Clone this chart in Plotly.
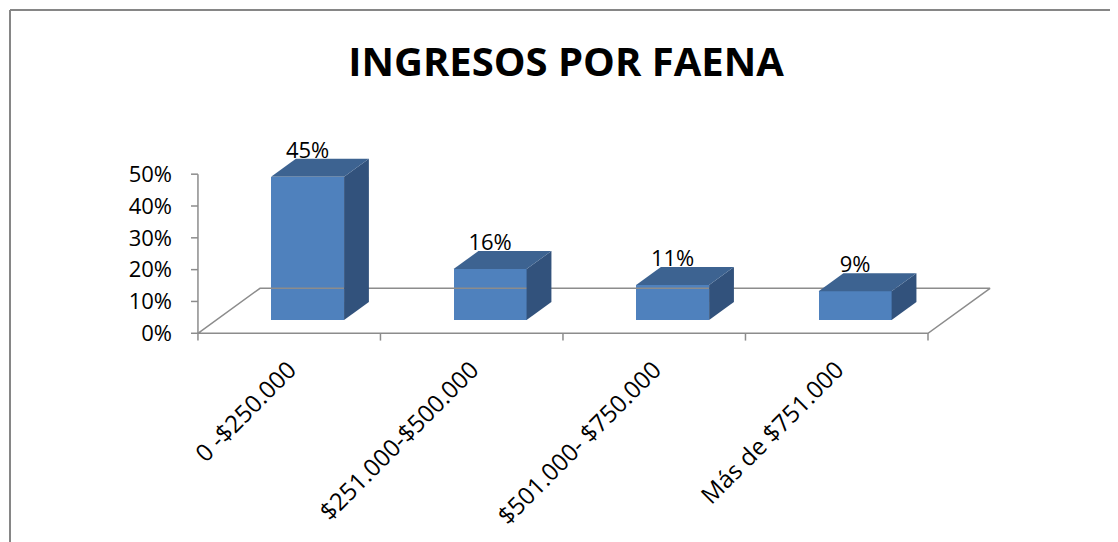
import plotly.graph_objects as go

# ---- data ----
categories = ["0 -$250.000", "$251.000-$500.000", "$501.000- $750.000", "Más de $751.000"]
values = [45, 16, 11, 9]            # percent
value_labels = ["45%", "16%", "11%", "9%"]
y_tick_vals = [0, 10, 20, 30, 40, 50]
y_tick_text = ["0%", "10%", "20%", "30%", "40%", "50%"]
title_text = "INGRESOS POR FAENA"

# ---- styling / geometry constants ----
FRONT = "#4F81BD"
TOP = "#3D6391"
SIDE = "#32527C"
GRID = "#8C8C8C"
FONT = "Open Sans"

W, H = 1118, 542
OFF = 8                              # page body margin
L, T = 187 - OFF, 136 - OFF
PW, PH = 814, 210
X0, X1 = -0.56, 3.9
Y0, Y1 = -4, 62

FLOOR_DX, FLOOR_DY = 0.34, 14.14     # floor depth in data units
D_FRONT, D_BACK = 0.296, 0.696      # bar depth fractions
BAR_W = 0.4
LABEL_DROP = 1.4                     # value label nudge (data units)

n = len(categories)
left, right = -0.5, n - 0.5

fig = go.Figure()

# floor outline
fx = [left, right, right + FLOOR_DX, left + FLOOR_DX, left]
fy = [0, 0, FLOOR_DY, FLOOR_DY, 0]
fig.add_trace(go.Scatter(x=fx, y=fy, mode="lines", line=dict(color=GRID, width=1.5),
                         hoverinfo="skip", showlegend=False))
# x tick marks at category boundaries
tx, ty = [], []
for k in range(n + 1):
    tx += [left + k, left + k, None]
    ty += [0, -2.3, None]
fig.add_trace(go.Scatter(x=tx, y=ty, mode="lines", line=dict(color=GRID, width=1.5),
                         hoverinfo="skip", showlegend=False))
# y axis line and ticks
ax, ay = [left, left, None], [0, max(y_tick_vals), None]
for v in y_tick_vals:
    ax += [left - 0.038, left, None]
    ay += [v, v, None]
fig.add_trace(go.Scatter(x=ax, y=ay, mode="lines", line=dict(color=GRID, width=1.5),
                         hoverinfo="skip", showlegend=False))

sx, sy = D_FRONT * FLOOR_DX, D_FRONT * FLOOR_DY
ddx, ddy = (D_BACK - D_FRONT) * FLOOR_DX, (D_BACK - D_FRONT) * FLOOR_DY
centers = [i + sx for i in range(n)]

# front faces
fig.add_trace(go.Bar(x=centers, y=values, base=[sy] * n, width=BAR_W,
                     marker=dict(color=FRONT, line=dict(width=0)),
                     hoverinfo="skip", showlegend=False))

# side and top faces
for c, v in zip(centers, values):
    xl, xr = c - BAR_W / 2, c + BAR_W / 2
    yb, yt = sy, sy + v
    fig.add_trace(go.Scatter(x=[xr, xr + ddx, xr + ddx, xr, xr],
                             y=[yb, yb + ddy, yt + ddy, yt, yb],
                             fill="toself", fillcolor=SIDE, mode="lines",
                             line=dict(width=0, color=SIDE),
                             hoverinfo="skip", showlegend=False))
    fig.add_trace(go.Scatter(x=[xl, xr, xr + ddx, xl + ddx, xl],
                             y=[yt, yt, yt + ddy, yt + ddy, yt],
                             fill="toself", fillcolor=TOP, mode="lines",
                             line=dict(width=0, color=TOP),
                             hoverinfo="skip", showlegend=False))

# value labels
fig.add_trace(go.Scatter(x=centers, y=[sy + v + ddy - LABEL_DROP for v in values], mode="text",
                         text=value_labels, textposition="top center",
                         textfont=dict(family=FONT, size=22, color="black"),
                         cliponaxis=False, hoverinfo="skip", showlegend=False))

fig.update_layout(
    width=W, height=H,
    margin=dict(l=L, r=W - L - PW, t=T, b=H - T - PH, pad=0),
    paper_bgcolor="white", plot_bgcolor="white",
    title=dict(text="<b>" + title_text + "</b>", x=(566 - OFF) / W, xanchor="center",
               y=1 - (62 - OFF) / H, yanchor="middle",
               font=dict(family=FONT, size=40, color="black")),
    xaxis=dict(range=[X0, X1], tickmode="array", tickvals=list(range(n)), ticktext=categories,
               tickangle=-45, showgrid=False, zeroline=False, showline=False, ticks="",
               ticklabelstandoff=4,
               tickfont=dict(family=FONT, size=24, color="black")),
    yaxis=dict(range=[Y0, Y1], tickmode="array", tickvals=y_tick_vals, ticktext=y_tick_text,
               showgrid=False, zeroline=False, showline=False, ticks="",
               ticklabelstandoff=14,
               tickfont=dict(family=FONT, size=22, color="black")),
    bargap=0,
    shapes=[
        dict(type="line", xref="paper", yref="paper",
             x0=(10 - OFF - L) / PW, x1=(W - L) / PW,
             y0=1 + (T - (10 - OFF)) / PH, y1=1 + (T - (10 - OFF)) / PH,
             line=dict(color="#868686", width=2)),
        dict(type="line", xref="paper", yref="paper",
             x0=(10 - OFF - L) / PW, x1=(10 - OFF - L) / PW,
             y0=1 + (T - (10 - OFF)) / PH, y1=-(H - T - PH) / PH,
             line=dict(color="#868686", width=2)),
    ],
)

fig.write_html("out.html")
